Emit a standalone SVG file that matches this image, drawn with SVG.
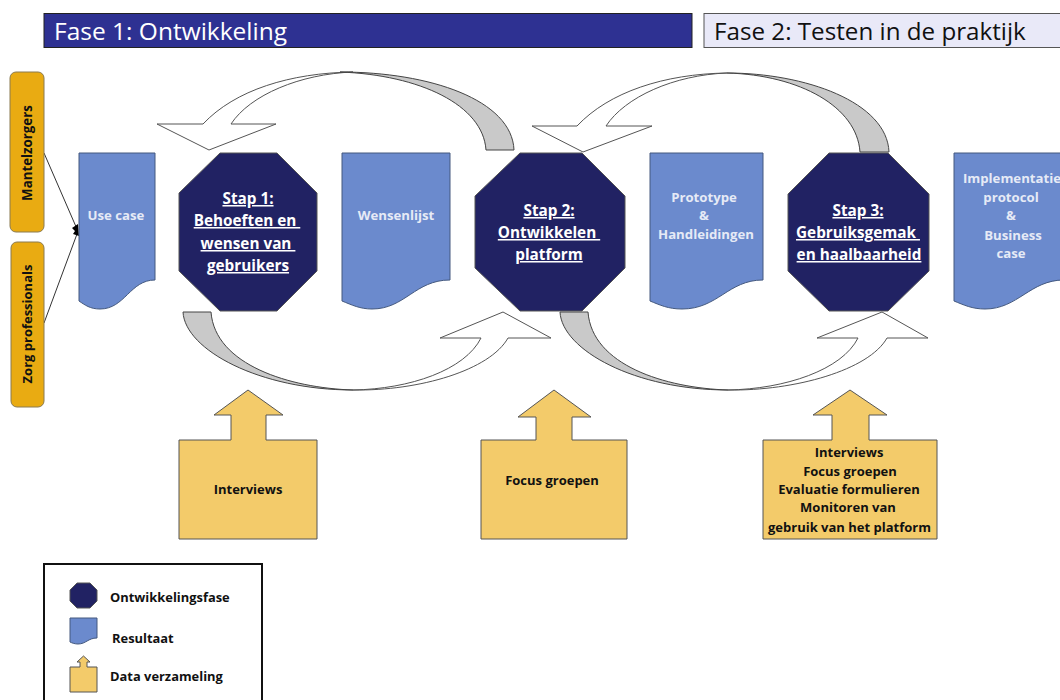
<svg xmlns="http://www.w3.org/2000/svg" width="1060" height="700" viewBox="0 0 1060 700">
<defs>
<style>
text{font-family:"Open Sans","Noto Sans","Liberation Sans",sans-serif}
.oct{fill:#212263;stroke:#555;stroke-width:1}
.doc{fill:#6b8acd;stroke:#44597f;stroke-width:1}
.sq{fill:#f3cb6a;stroke:#555;stroke-width:1}
.act{fill:#e9ab12;stroke:#8a7a50;stroke-width:1}
.g{fill:#c9c9c9;stroke:#444;stroke-width:1}
.w{fill:#fff;stroke:#555;stroke-width:1}
.st{fill:#fff;font-size:15.3px;font-weight:700;text-anchor:middle;text-decoration:underline}
.dt{fill:#e6eaf6;font-size:13.2px;font-weight:700;text-anchor:middle}
.bt{fill:#111;font-size:13px;font-weight:700;text-anchor:middle}
.at{fill:#111;font-size:13.3px;font-weight:700;text-anchor:middle}
.lt{fill:#111;font-size:12.9px;font-weight:700}
.t{font-size:24.5px}
</style>
</defs>
<g id="header-1"><rect x="44" y="13.500" width="648" height="34" fill="#2e3192" stroke="#222"/><text class="t" x="54" y="40" fill="#fff">Fase 1: Ontwikkeling</text></g>
<g id="header-2"><rect x="704" y="13.500" width="360" height="34" fill="#e9e9f8" stroke="#555"/><text class="t" x="714" y="40" fill="#111" style="font-size:24.2px">Fase 2: Testen in de praktijk</text></g>
<g id="connectors">
<line x1="44" y1="153" x2="77" y2="229" stroke="#333"/>
<line x1="44" y1="323" x2="77" y2="234" stroke="#333"/>
<path d="M72 228L78 224L79 236L73 234L75 231Z" fill="#000"/>
<path class="w" d="M157 124L203 124C235 90 290 73 353 72C300 74 250 95 231 124L276 124L209 150Z"/>
<path class="g" d="M340 72C430 72 512 100 514 150L486 150C483 105 420 75 340 72Z"/>
<path class="w" d="M532 126L577 126C609 92 664 74 727 73C674 75 625 97 606 126L652 126L583 152Z"/>
<path class="g" d="M727 73C805 73 887 102 889 152L860 152C857 107 800 75 727 73Z"/>
<path class="g" d="M183 312L211 312C215 365 290 388 353 390C260 390 185 350 183 312Z"/>
<path class="w" d="M440 338L481 338C465 370 410 389 353 390C420 391 490 370 508 338L551 338L503 312Z"/>
<path class="g" d="M560 312L588 312C592 365 665 388 728 390C635 390 562 350 560 312Z"/>
<path class="w" d="M817 338L858 338C842 370 785 389 728 390C795 391 869 370 887 338L928 338L882 312Z"/>
</g>
<g id="actor-1"><rect class="act" x="10" y="72" width="34" height="160" rx="6"/><text transform="translate(32 153) rotate(-90)" class="at">Mantelzorgers</text></g>
<g id="actor-2"><rect class="act" x="11" y="242" width="33" height="165" rx="6"/><text transform="translate(32 324) rotate(-90)" class="bt">Zorg professionals</text></g>
<g id="doc-usecase"><path class="doc" d="M79 153H155V280C130 280 125 309 100 309C90 309 85 305 79 301Z"/><text class="dt" x="116" y="220">Use case</text></g>
<g id="step-1"><polygon class="oct" points="220,153 277,153 317,193 317,271 277,311 220,311 179,271 179,193"/><text class="st" x="248" y="204">Stap 1:</text><text class="st" x="247" y="226" xml:space="preserve">Behoeften en </text><text class="st" x="248" y="249" xml:space="preserve">wensen van </text><text class="st" x="248" y="271">gebruikers</text></g>
<g id="doc-wensen"><path class="doc" d="M342 153H450V280C415 280 405 309 372 309C360 309 352 305 342 301Z"/><text class="dt" x="396" y="220">Wensenlijst</text></g>
<g id="step-2"><polygon class="oct" points="520,153 582,153 625,196 625,268 582,311 520,311 475,268 475,196"/><text class="st" x="549" y="216">Stap 2:</text><text class="st" x="549" y="238" xml:space="preserve">Ontwikkelen </text><text class="st" x="549" y="260">platform</text></g>
<g id="doc-prototype"><path class="doc" d="M650 153H763V280C728 280 718 309 682 309C668 309 660 305 650 301Z"/><text class="dt" x="704" y="202">Prototype</text><text class="dt" x="704" y="220">&amp;</text><text class="dt" x="706" y="239">Handleidingen</text></g>
<g id="step-3"><polygon class="oct" points="829,153 888,153 929,194 929,271 888,311 829,311 788,271 788,194"/><text class="st" x="858" y="216">Stap 3:</text><text class="st" x="858" y="238" xml:space="preserve">Gebruiksgemak </text><text class="st" x="859" y="260">en haalbaarheid</text></g>
<g id="doc-impl"><path class="doc" d="M954 153H1064V280C1030 280 1018 309 985 309C972 309 964 305 954 301Z"/><text class="dt" x="1012" y="183">Implementatie</text><text class="dt" x="1011" y="202">protocol</text><text class="dt" x="1011" y="220">&amp;</text><text class="dt" x="1013" y="240">Business</text><text class="dt" x="1011" y="258">case</text></g>
<g id="data-1"><path class="sq" d="M179 440H231V415H214L248 390L283 415H266V440H317V539H179Z"/><text class="bt" x="248" y="494">Interviews</text></g>
<g id="data-2"><path class="sq" d="M481 440H536V417H518L554 390L591 417H572V440H627V539H481Z"/><text class="bt" x="552" y="485">Focus groepen</text></g>
<g id="data-3"><path class="sq" d="M763 440H832V415H813L850 390L887 415H869V440H937V539H763Z"/><text class="bt" x="849" y="457">Interviews</text><text class="bt" x="850" y="476">Focus groepen</text><text class="bt" x="849" y="494">Evaluatie formulieren</text><text class="bt" x="848" y="512">Monitoren van</text><text class="bt" x="849.500" y="532">gebruik van het platform</text></g>
<g id="legend"><rect x="44" y="564" width="218" height="140" fill="#fff" stroke="#111" stroke-width="2"/>
<polygon class="oct" points="77,583 90,583 97,590 97,601 90,608 77,608 70,601 70,590"/><text class="lt" x="110" y="602">Ontwikkelingsfase</text>
<path class="doc" d="M70 618H97V638C88 638 86 644 78 644C75 644 72 643 70 642Z"/><text class="lt" x="112" y="643">Resultaat</text>
<path class="sq" d="M70 667H80V662H77L83.500 656L90 662H87V667H97V692H70Z"/><text class="lt" x="110" y="681">Data verzameling</text></g>
</svg>
